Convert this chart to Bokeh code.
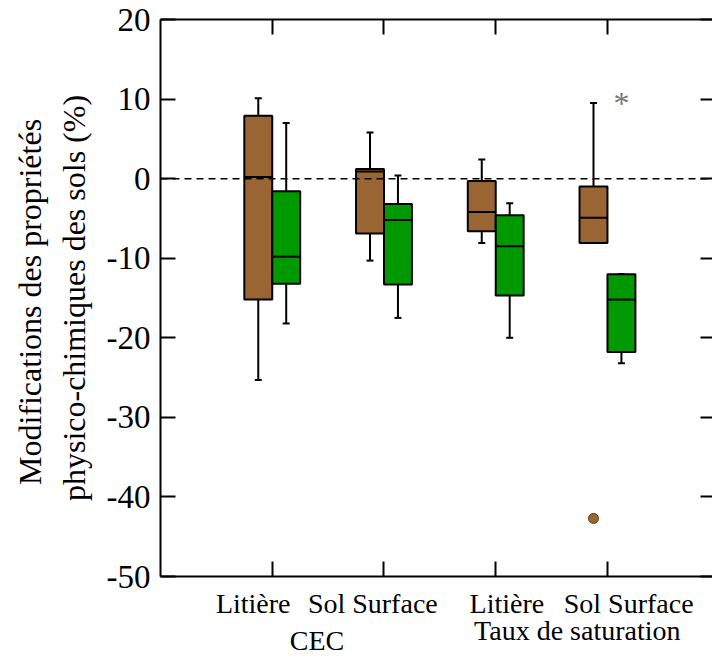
import numpy as np
from bokeh.plotting import figure
from bokeh.models import (Range1d, LinearAxis, FixedTicker, Span,
                          ColumnDataSource, CustomJSTickFormatter)
from bokeh.core.properties import value
from bokeh.embed import file_html
from bokeh.resources import INLINE

# ---- data ----
categories = ["Litière", "Sol Surface", "Litière", "Sol Surface"]
groups = ["CEC", "Taux de saturation"]
positions = [1, 2, 3, 4]

brown_upper = [10.1, 5.8, 2.4, 9.5]
brown_q3 = [7.9, 1.2, -0.3, -1.0]
brown_med = [0.2, 0.9, -4.2, -4.9]
brown_q1 = [-15.2, -6.9, -6.6, -8.1]
brown_lower = [-25.3, -10.3, -8.1, -8.1]

green_upper = [7.0, 0.4, -3.1, -12.0]
green_q3 = [-1.6, -3.2, -4.6, -12.0]
green_med = [-9.8, -5.2, -8.5, -15.2]
green_q1 = [-13.2, -13.3, -14.7, -21.8]
green_lower = [-18.2, -17.5, -20.0, -23.2]

brown_outlier_pos = [4]
brown_outlier_val = [-42.7]
green_outlier_pos = [4]
green_outlier_val = [9.7]

y_ticks = [-50, -40, -30, -20, -10, 0, 10, 20]

# label anchor positions along the x axis
cat_x = [0.83, 1.90, 3.10, 4.19]
grp_x = [1.40, 3.73]

BROWN = "#996633"
GREEN = "#009900"
FONT = "Liberation Serif"

p = figure(width=712, height=658, x_range=Range1d(0, 4.94), y_range=Range1d(-50, 20),
           output_backend="svg", toolbar_location=None,
           min_border_left=160, min_border_right=0, min_border_top=19, min_border_bottom=81)
p.outline_line_color = None
p.grid.visible = False
p.background_fill_color = "white"
p.border_fill_color = "white"

blank = CustomJSTickFormatter(code="return ''")

def style_axis(ax, tin, show_labels=False):
    ax.major_tick_in = tin
    ax.major_tick_out = 0
    ax.minor_tick_line_color = None
    ax.axis_line_width = 2
    ax.major_tick_line_width = 2
    ax.axis_line_color = "black"
    ax.major_tick_line_color = "black"
    if not show_labels:
        ax.formatter = blank
        ax.major_label_standoff = 0

# left axis
yax = p.yaxis[0]
yax.ticker = FixedTicker(ticks=y_ticks)
yax.formatter = CustomJSTickFormatter(code="return tick.toFixed(0)")
style_axis(yax, 15, True)
yax.major_label_text_font = FONT
yax.major_label_text_font_size = "33px"
yax.major_label_text_color = "black"
yax.major_label_standoff = 10
yax.axis_label = "Modifications  des propriétés\nphysico-chimiques des sols (%)"
yax.axis_label_text_font = FONT
yax.axis_label_text_font_size = "32px"
yax.axis_label_text_font_style = "normal"
yax.axis_label_text_color = "black"
yax.axis_label_standoff = 12

# bottom axis (ticks only)
xax = p.xaxis[0]
xax.ticker = FixedTicker(ticks=positions)
style_axis(xax, 15)

def label_axis(ticks, texts, standoff):
    ax = LinearAxis(ticker=FixedTicker(ticks=ticks))
    ax.major_label_overrides = {t: s for t, s in zip(ticks, texts)}
    ax.axis_line_color = None
    ax.major_tick_line_color = None
    ax.minor_tick_line_color = None
    ax.major_tick_in = 0
    ax.major_tick_out = 0
    ax.major_label_standoff = standoff
    ax.major_label_text_font = FONT
    ax.major_label_text_font_size = "28px"
    ax.major_label_text_color = "black"
    p.add_layout(ax, "below")
    return ax

label_axis(cat_x, categories, 11)
label_axis([grp_x[1]], [groups[1]], -7)
label_axis([grp_x[0]], [groups[0]], -24)

# top axis
top = LinearAxis(ticker=FixedTicker(ticks=positions))
style_axis(top, 15)
p.add_layout(top, "above")

# right axis
right = LinearAxis(ticker=FixedTicker(ticks=y_ticks))
style_axis(right, 12)
right.axis_line_color = None
p.add_layout(right, "right")

# zero line
p.add_layout(Span(location=0, dimension="width", line_color="black",
                  line_dash="7 5", line_width=1.5))

HALF = 0.125

def draw_boxes(offset, upper, q3, med, q1, lower, color):
    x = np.array(positions, dtype=float) + offset
    src = ColumnDataSource(dict(x=x, left=x - HALF, right=x + HALF, upper=upper, q3=q3,
                                med=med, q1=q1, lower=lower))
    p.segment(x0="x", y0="q3", x1="x", y1="upper", source=src, line_color="black", line_width=2)
    p.segment(x0="x", y0="q1", x1="x", y1="lower", source=src, line_color="black", line_width=2)
    p.scatter(x="x", y="upper", source=src, marker="dash", size=7, line_color="black", line_width=2)
    p.scatter(x="x", y="lower", source=src, marker="dash", size=7, line_color="black", line_width=2)
    p.quad(left="left", right="right", top="q3", bottom="q1", source=src, fill_color=color,
           line_color="black", line_width=2)
    p.segment(x0="left", y0="med", x1="right", y1="med", source=src,
              line_color="black", line_width=2)

draw_boxes(-HALF, brown_upper, brown_q3, brown_med, brown_q1, brown_lower, BROWN)
draw_boxes(HALF, green_upper, green_q3, green_med, green_q1, green_lower, GREEN)

p.scatter(x=np.array(brown_outlier_pos) - HALF, y=brown_outlier_val, marker="circle", size=10,
          fill_color=BROWN, line_color="#5a3a1a", line_width=1)
p.text(x=np.array(green_outlier_pos) + HALF, y=green_outlier_val, text=["*"],
       text_font=value(FONT), text_font_size="32px", text_color="#777777",
       text_align="center", text_baseline="alphabetic", y_offset=2)

open("out.html", "w").write(file_html(p, INLINE))
